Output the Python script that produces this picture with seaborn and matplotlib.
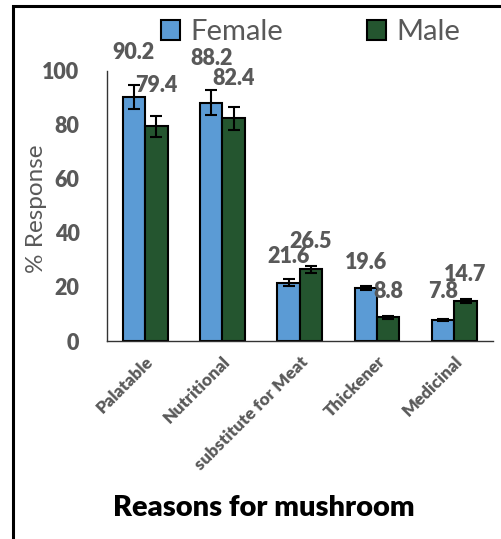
import pandas as pd
import numpy as np
import matplotlib
matplotlib.use('Agg')
import matplotlib.pyplot as plt
from matplotlib.patches import Rectangle
import seaborn as sns

# dados
categories = ['Palatable', 'Nutritional', 'substitute for Meat', 'Thickener', 'Medicinal']
female = [90.2, 88.2, 21.6, 19.6, 7.8]
male = [79.4, 82.4, 26.5, 8.8, 14.7]
female_err = [4.5, 4.5, 1.2, 0.8, 0.4]
male_err = [4.0, 4.2, 1.4, 0.5, 0.8]

df = pd.DataFrame({
    'reason': categories * 2,
    'sex': ['Female'] * len(categories) + ['Male'] * len(categories),
    'value': female + male,
})

sns.set_style('white')
plt.rcParams['font.family'] = ['Lato', 'DejaVu Sans']

gray = '#595959'
colors = {'Female': '#5b9bd5', 'Male': '#24552f'}

fig = plt.figure(figsize=(5.01, 5.39), dpi=100)
ax = fig.add_axes([0.2126, 0.3673, 0.7714, 0.5016])

sns.barplot(data=df, x='reason', y='value', hue='sex', palette=colors, errorbar=None,
            saturation=1, width=0.58, edgecolor='black', linewidth=1.5, ax=ax, legend=True)

# barras de erro e rotulos
errs = [female_err, male_err]
vals = [female, male]
# deslocamento dos rotulos (unidades do eixo y) acima do topo da barra
label_off = [[16.7, 16.3, 9.6, 9.6, 10.4], [15.2, 14.8, 10.4, 9.6, 10.0]]
bar_conts = list(ax.containers)
for k, cont in enumerate(bar_conts):
    for i, bar in enumerate(cont):
        xc = bar.get_x() + bar.get_width() / 2
        ax.errorbar(xc, vals[k][i], yerr=errs[k][i], color='black',
                    elinewidth=1.5, capsize=4, capthick=1.5, fmt='none', zorder=5)
        ax.text(xc, vals[k][i] + label_off[k][i], f'{vals[k][i]:.1f}',
                ha='center', va='center', fontsize=15.5, fontweight='heavy',
                color=gray, zorder=6, clip_on=False)

ax.set_ylim(0, 100)
ax.set_yticks(range(0, 101, 20))
ax.set_xlim(-0.5, 4.5)
sns.despine(ax=ax)
for s in ['left', 'bottom']:
    ax.spines[s].set_color('#333333')
    ax.spines[s].set_linewidth(1.0)

ax.tick_params(axis='y', direction='out', length=6.5, width=1, color='#333333',
               pad=13, labelsize=15.5, labelcolor=gray)
for t in ax.get_yticklabels():
    t.set_fontweight('heavy')
ax.tick_params(axis='x', length=0, pad=9)
ax.set_xticks(range(len(categories)))
ax.set_xticklabels(categories, rotation=45, ha='right', rotation_mode='anchor',
                   fontsize=12.5, fontweight='heavy', color=gray)

ax.set_ylabel('% Response', fontsize=17.5, color=gray)
ax.yaxis.set_label_coords(-0.154, 0.49)
ax.set_xlabel('Reasons for mushroom', fontsize=21, fontweight='heavy', color='black')
ax.xaxis.set_label_coords(0.407, -0.57)

ax.legend_.remove()
handles = [Rectangle((0, 0), 1, 1, facecolor=colors[s], edgecolor='black', linewidth=1.5)
           for s in ['Female', 'Male']]
leg = fig.legend(handles, ['Female', 'Male'], loc='center', bbox_to_anchor=(0.62, 0.94),
                 ncol=2, frameon=False, fontsize=21, handlelength=0.65, handleheight=0.65,
                 handletextpad=0.35, columnspacing=2.9)
for t in leg.get_texts():
    t.set_color(gray)

# moldura preta em volta
fig.patches.append(Rectangle((12.5 / 501, -0.1), 1.2, 1.1 - 6 / 539,
                             transform=fig.transFigure, fill=False,
                             edgecolor='black', linewidth=2.2))

fig.savefig('out.png', dpi=100)
